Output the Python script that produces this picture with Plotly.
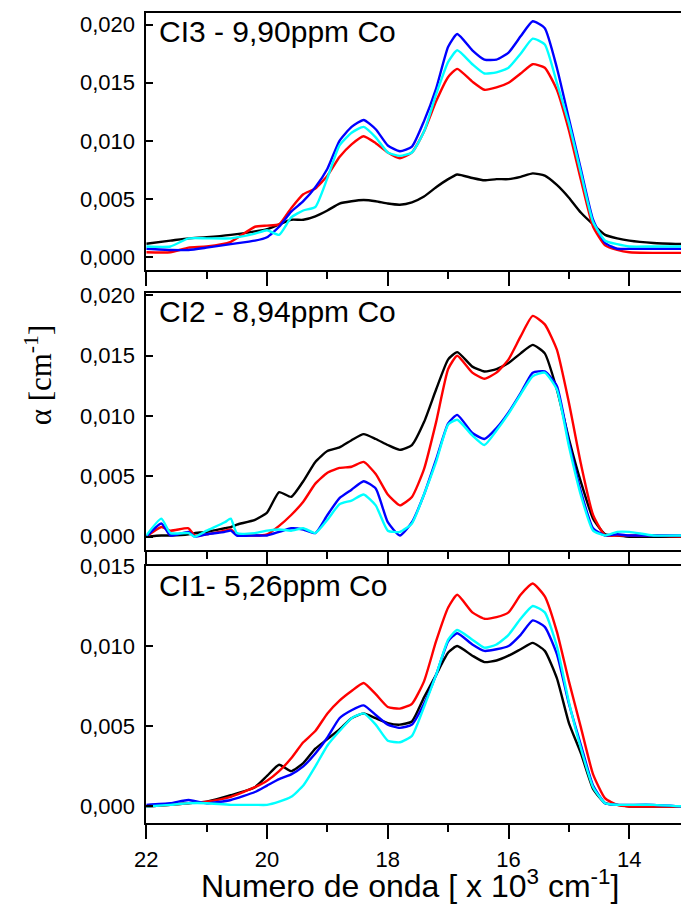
import plotly.graph_objects as go

# ---------------- data ----------------
X = [22.0, 21.6, 21.3, 21.0, 20.6, 20.2, 20.0, 19.8, 19.6, 19.4, 19.2, 19.0, 18.8,
     18.6, 18.4, 18.2, 18.0, 17.8, 17.6, 17.4, 17.2, 17.0, 16.85, 16.6, 16.4, 16.2,
     16.0, 15.8, 15.6, 15.4, 15.2, 15.0, 14.8, 14.6, 14.4, 14.2, 14.0, 13.6, 13.1]

X_MID = [22.0, 21.75, 21.6, 21.3, 21.2, 21.0, 20.7, 20.6, 20.5, 20.2, 20.0, 19.8, 19.6,
         19.4, 19.2, 19.0, 18.8, 18.6, 18.4, 18.2, 18.0, 17.8, 17.6, 17.4, 17.2, 17.0,
         16.85, 16.6, 16.4, 16.2, 16.0, 15.8, 15.6, 15.4, 15.2, 15.0, 14.8, 14.6, 14.4,
         14.2, 14.0, 13.6, 13.1]

# CI3 - 9,90ppm Co (top panel)
ci3_black = [0.00114, 0.0014, 0.0016, 0.0017, 0.0019, 0.0022, 0.0024, 0.0028, 0.0032, 0.0032,
             0.0035, 0.0040, 0.0046, 0.0048, 0.0049, 0.0048, 0.0046, 0.0045, 0.0047, 0.0052,
             0.0060, 0.0067, 0.0071, 0.0068, 0.0066, 0.0067, 0.0067, 0.0069, 0.0072, 0.0070,
             0.0062, 0.0051, 0.0038, 0.0028, 0.0019, 0.0016, 0.0014, 0.0012, 0.0011]
ci3_red = [0.0004, 0.0004, 0.0008, 0.0009, 0.0013, 0.0026, 0.0027, 0.0028, 0.0042, 0.0054,
           0.0059, 0.0070, 0.0086, 0.0097, 0.0104, 0.0098, 0.0090, 0.0085, 0.0090, 0.0108,
           0.0134, 0.0155, 0.0162, 0.0151, 0.0144, 0.0146, 0.0150, 0.0158, 0.0166, 0.0163,
           0.0144, 0.0109, 0.0066, 0.0026, 0.0010, 0.0006, 0.0004, 0.00035, 0.00035]
ci3_blue = [0.0007, 0.0006, 0.0006, 0.0008, 0.0011, 0.0014, 0.0017, 0.0026, 0.0039, 0.0048,
            0.0060, 0.0076, 0.0100, 0.0112, 0.0118, 0.0110, 0.0096, 0.0091, 0.0095, 0.0117,
            0.0145, 0.0181, 0.0192, 0.0178, 0.0170, 0.0170, 0.0176, 0.0190, 0.0203, 0.0197,
            0.0163, 0.0119, 0.0075, 0.0032, 0.0012, 0.0007, 0.0007, 0.0007, 0.0007]
ci3_cyan = [0.0009, 0.0009, 0.0016, 0.0016, 0.0016, 0.0020, 0.0023, 0.0019, 0.0034, 0.0040,
            0.0043, 0.0068, 0.0096, 0.0107, 0.0112, 0.0103, 0.0090, 0.0087, 0.0090, 0.0108,
            0.0140, 0.0168, 0.0178, 0.0166, 0.0158, 0.0159, 0.0163, 0.0175, 0.0188, 0.0183,
            0.0150, 0.0115, 0.0072, 0.0030, 0.0014, 0.0011, 0.0009, 0.0009, 0.0009]

# CI2 - 8,94ppm Co (middle panel)
ci2_black = [0.0, 0.0001, 0.0001, 0.0002, 0.0003, 0.0004, 0.0007, 0.0008, 0.0010, 0.0014,
             0.0020, 0.0037, 0.0033, 0.0046, 0.0062, 0.0071, 0.0074, 0.0080, 0.0085, 0.0081,
             0.0076, 0.0072, 0.0076, 0.0095, 0.0122, 0.0147, 0.0153, 0.0141, 0.0137, 0.0139,
             0.0144, 0.0152, 0.0159, 0.0152, 0.0122, 0.0081, 0.0045, 0.0015, 0.0002, 0.0001,
             0.0, 0.0, 0.0]
ci2_red = [0.0, 0.0008, 0.0005, 0.0007, 0.0001, 0.0002, 0.0005, 0.0006, 0.0002, 0.0001,
           0.0002, 0.0009, 0.0018, 0.0029, 0.0044, 0.0053, 0.0057, 0.0058, 0.0062, 0.0052,
           0.0035, 0.0026, 0.0033, 0.0056, 0.0095, 0.0139, 0.0150, 0.0136, 0.0131, 0.0136,
           0.0147, 0.0166, 0.0183, 0.0176, 0.0155, 0.0111, 0.0060, 0.0018, 0.0001, 0.0001,
           0.0001, 0.0001, 0.0]
ci2_blue = [0.0, 0.0011, 0.0001, 0.0004, 0.0, 0.0002, 0.0004, 0.0005, 0.0001, 0.0001,
            0.0001, 0.0004, 0.0007, 0.0006, 0.0003, 0.0018, 0.0032, 0.0039, 0.0046, 0.0040,
            0.0012, 0.0001, 0.0012, 0.0035, 0.0064, 0.0094, 0.0101, 0.0086, 0.0081, 0.0090,
            0.0103, 0.0119, 0.0136, 0.0137, 0.0125, 0.0078, 0.0037, 0.0007, 0.0001, 0.0002,
            0.0001, 0.0001, 0.0001]
ci2_cyan = [0.0001, 0.0015, 0.0003, 0.0003, 0.0, 0.0005, 0.0012, 0.0015, 0.0003, 0.0003,
            0.0005, 0.0006, 0.0005, 0.0007, 0.0003, 0.0014, 0.0027, 0.0030, 0.0035, 0.0026,
            0.0005, 0.0004, 0.0011, 0.0035, 0.0062, 0.0093, 0.0097, 0.0084, 0.0076, 0.0088,
            0.0102, 0.0118, 0.0133, 0.0136, 0.0122, 0.0075, 0.0034, 0.0005, 0.0001, 0.0004,
            0.0004, 0.0001, 0.0001]

# CI1- 5,26ppm Co (bottom panel)
ci1_black = [0.0, 0.0001, 0.0002, 0.0003, 0.0007, 0.0012, 0.0019, 0.0026, 0.0022, 0.0027,
             0.0036, 0.0042, 0.0048, 0.0055, 0.0058, 0.0055, 0.0052, 0.0051, 0.0053, 0.0068,
             0.0082, 0.0096, 0.0100, 0.0094, 0.0090, 0.0091, 0.0094, 0.0098, 0.0102, 0.0097,
             0.0080, 0.0052, 0.0033, 0.0011, 0.0002, 0.0001, 0.0, 0.0, 0.0]
ci1_red = [0.0, 0.0001, 0.0002, 0.0003, 0.0006, 0.0012, 0.0016, 0.0022, 0.0030, 0.0040,
           0.0047, 0.0058, 0.0066, 0.0072, 0.0077, 0.0070, 0.0062, 0.0061, 0.0064, 0.0078,
           0.0103, 0.0124, 0.0132, 0.0121, 0.0117, 0.0118, 0.0121, 0.0132, 0.0139, 0.0131,
           0.0109, 0.0078, 0.0049, 0.0020, 0.0005, 0.0001, 0.0, 0.0, 0.0]
ci1_blue = [0.0001, 0.0002, 0.0004, 0.0002, 0.0004, 0.0009, 0.0013, 0.0017, 0.0020, 0.0025,
            0.0033, 0.0043, 0.0055, 0.0060, 0.0063, 0.0057, 0.0051, 0.0049, 0.0051, 0.0064,
            0.0082, 0.0103, 0.0108, 0.0101, 0.0097, 0.0098, 0.0100, 0.0107, 0.0116, 0.0112,
            0.0095, 0.0064, 0.0038, 0.0013, 0.0002, 0.0001, 0.0001, 0.0001, 0.0]
ci1_cyan = [0.0, 0.0001, 0.0002, 0.0002, 0.0001, 0.0001, 0.0001, 0.0003, 0.0006, 0.0013,
            0.0025, 0.0038, 0.0047, 0.0055, 0.0058, 0.0051, 0.0041, 0.0040, 0.0044, 0.0062,
            0.0082, 0.0104, 0.0110, 0.0104, 0.0099, 0.0101, 0.0107, 0.0117, 0.0125, 0.0121,
            0.0100, 0.0065, 0.0036, 0.0012, 0.0002, 0.0001, 0.0001, 0.0001, 0.0]

panel_labels = ["CI3 - 9,90ppm Co", "CI2 - 8,94ppm Co", "CI1- 5,26ppm Co"]
x_tick_vals = [22, 20, 18, 16, 14]
x_tick_text = ["22", "20", "18", "16", "14"]
y_tick_vals = [0.0, 0.005, 0.010, 0.015, 0.020]
y_tick_text = ["0,000", "0,005", "0,010", "0,015", "0,020"]
x_title = "Numero de onda [ x 10<sup>3</sup> cm<sup>-1</sup>]"
y_title = "α [cm<sup>-1</sup>]"

# ---------------- figure ----------------
W, H = 681, 904
# the page keeps an 8 px body margin and the shot is rescaled; target pixel
# positions are converted to figure pixels accordingly
OFF = 8
SX = 681 / 689
SY = 904 / 912
colors = ["#000000", "#ff0000", "#0000ff", "#00ffff"]
LW = 2.4

def fx(t):
    return t / SX - OFF

def fy(t):
    return t / SY - OFF

def px(t):  # target pixel from left -> paper fraction
    return fx(t) / W

def py(t):  # target pixel from top -> paper fraction
    return 1 - fy(t) / H

fig = go.Figure()
panels = [
    ("y3", X, [ci3_black, ci3_red, ci3_blue, ci3_cyan]),
    ("y2", X_MID, [ci2_black, ci2_red, ci2_blue, ci2_cyan]),
    ("y", X, [ci1_black, ci1_red, ci1_blue, ci1_cyan]),
]
xmap = {"y3": "x3", "y2": "x2", "y": "x"}
for yax, xs, series in panels:
    for ys, c in zip(series, colors):
        fig.add_trace(go.Scatter(x=xs, y=ys, mode="lines", xaxis=xmap[yax], yaxis=yax,
                                 line=dict(color=c, width=LW, shape="spline", smoothing=0.5),
                                 showlegend=False, hoverinfo="skip"))

x0 = px(143)
xr = [22, 22 - (681 - 143) / 60.75]
tickfont = dict(family="Liberation Sans, Arial", size=22, color="black")

def xaxis(anchor, showlabels):
    return dict(domain=[x0, 1.0], range=xr, anchor=anchor,
                showline=True, linecolor="black", linewidth=1.8, mirror=True,
                ticks="outside", ticklen=14, tickwidth=1.8, tickcolor="black",
                tickvals=x_tick_vals, ticktext=x_tick_text,
                showticklabels=showlabels, tickfont=tickfont,
                ticklabelstandoff=1,
                minor=dict(dtick=1, tick0=0, ticks="outside", ticklen=7,
                           tickwidth=1.8, tickcolor="black", showgrid=False),
                showgrid=False, zeroline=False, fixedrange=True)

def yaxis(anchor, dom, rng):
    return dict(domain=dom, range=rng, anchor=anchor,
                showline=True, linecolor="black", linewidth=1.8, mirror=False,
                ticks="inside", ticklen=7, tickwidth=1.8, tickcolor="black",
                tickvals=y_tick_vals, ticktext=y_tick_text, tickfont=tickfont,
                ticklabelstandoff=5,
                showgrid=False, zeroline=False, fixedrange=True)

fig.update_layout(
    width=W, height=H, autosize=False,
    margin=dict(l=0, r=0, t=0, b=0, pad=0),
    paper_bgcolor="white", plot_bgcolor="white",
    xaxis=xaxis("y", True),
    xaxis2=xaxis("y2", False),
    xaxis3=xaxis("y3", False),
    yaxis=yaxis("x", [py(823), py(564)], [-0.001055, 0.01502]),
    yaxis2=yaxis("x2", [py(548), py(290)], [-0.00107, 0.02022]),
    yaxis3=yaxis("x3", [py(267.5), py(9.3)], [-0.00116, 0.02098]),
)

label_font = dict(family="Liberation Sans, Arial", size=30, color="black")
for txt, ytop in zip(panel_labels, [9, 290, 565]):
    fig.add_annotation(text=txt, xref="paper", yref="paper", x=px(154), y=py(ytop),
                       xanchor="left", yanchor="top", showarrow=False, font=label_font)

fig.add_annotation(text=x_title, xref="paper", yref="paper", x=px(408), y=py(884),
                   xanchor="center", yanchor="middle", showarrow=False,
                   font=dict(family="Liberation Sans, Arial", size=32, color="black"))
fig.add_annotation(text=y_title, xref="paper", yref="paper", x=px(34), y=py(372),
                   xanchor="center", yanchor="middle", showarrow=False, textangle=-90,
                   font=dict(family="Liberation Serif, Times New Roman", size=31, color="black"))

fig.write_html("out.html", config={"displayModeBar": False})
